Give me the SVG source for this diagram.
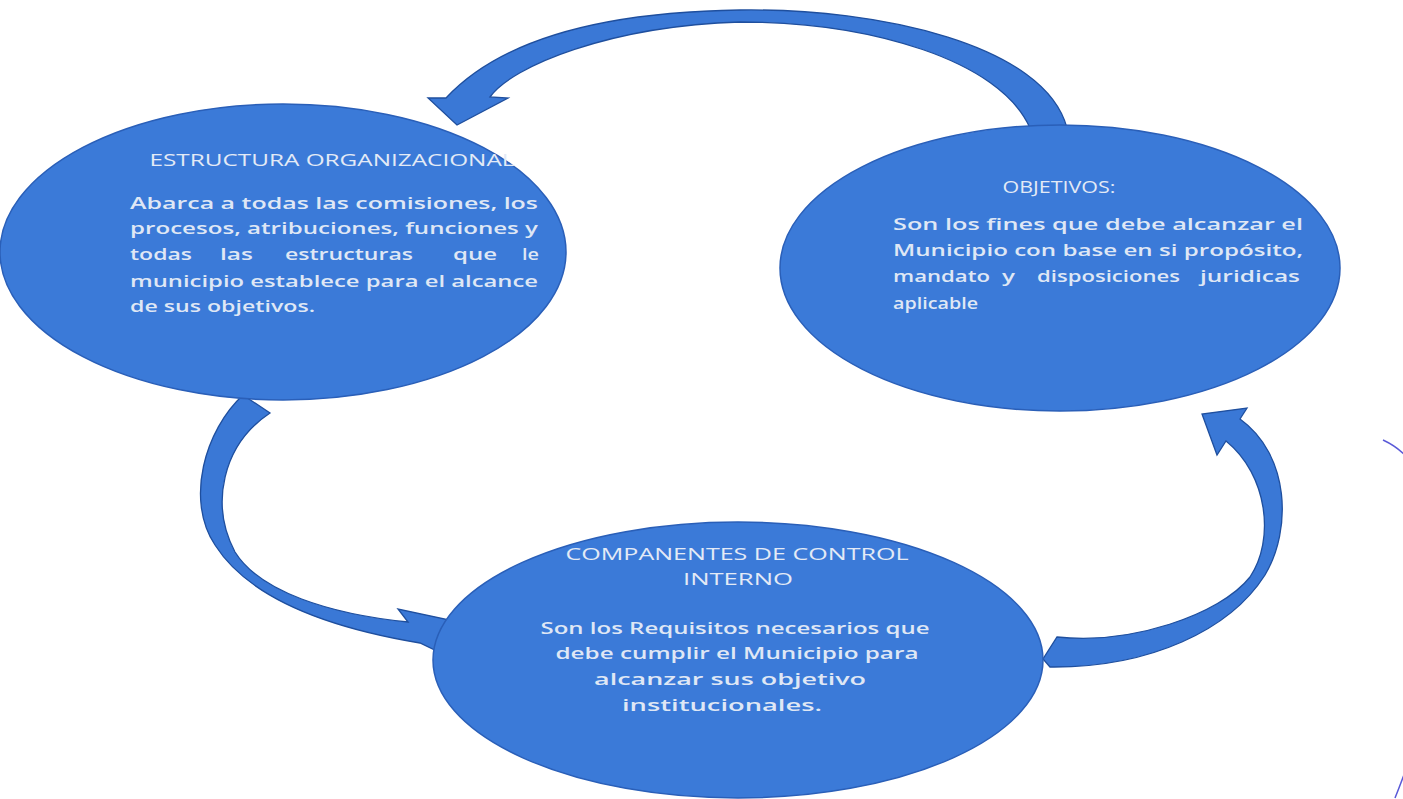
<svg xmlns="http://www.w3.org/2000/svg" width="1403" height="799" viewBox="0 0 1403 799">
<style>
.node{fill:#3b7ad8;stroke:#2a5fb8;stroke-width:1.5}
.arrow{fill:#3a78d6;stroke:#1f4f9e;stroke-width:1.3;stroke-linejoin:miter}
.t{font-family:"Open Sans","Liberation Sans",sans-serif;font-size:16.5px;font-weight:600;fill:#dfe7f5}
.h{font-family:"Open Sans","Liberation Sans",sans-serif;font-size:15.5px;fill:#e3eaf6}
.edge{fill:none;stroke:#5a5ad8;stroke-width:1.5}
</style>
<rect width="1403" height="799" fill="#ffffff"/>
<g id="connectors">
<path class="arrow" d="M1067,128 C1045,45 880,8 740,10 C600,12 500,40 446,98 L428,98 L457,125 L508,98 L490,97 C512,66 610,26 740,22 C870,22 1000,60 1030,128 Z"/>
<path class="arrow" d="M243,395 C205,430 185,500 215,545 C250,600 330,628 420,643 L445,655 L478,626 L398,609 L408,622 C330,614 260,592 235,552 C210,505 222,445 270,413 Z"/>
<path class="arrow" d="M1057,637 C1130,645 1220,615 1250,577 C1275,540 1268,475 1226,441 L1217,455 L1202,414 L1247,408 L1240,419 C1290,455 1292,530 1265,575 C1230,630 1150,668 1050,667 L1043,659 Z"/>
</g>
<g id="node-estructura">
<ellipse class="node" cx="283" cy="252" rx="283" ry="148"/>
<text class="h" x="332" y="166" text-anchor="middle" textLength="365" lengthAdjust="spacingAndGlyphs">ESTRUCTURA ORGANIZACIONAL</text>
<text class="t" x="130" y="209" textLength="408" lengthAdjust="spacingAndGlyphs">Abarca a todas las comisiones, los</text>
<text class="t" x="130" y="234" textLength="408" lengthAdjust="spacingAndGlyphs">procesos, atribuciones, funciones y</text>
<text class="t" y="260"><tspan x="130" textLength="62" lengthAdjust="spacingAndGlyphs">todas</tspan><tspan x="220" textLength="33" lengthAdjust="spacingAndGlyphs">las</tspan><tspan x="285" textLength="128" lengthAdjust="spacingAndGlyphs">estructuras</tspan><tspan x="453" textLength="44" lengthAdjust="spacingAndGlyphs">que</tspan><tspan x="522" textLength="17" lengthAdjust="spacingAndGlyphs">le</tspan></text>
<text class="t" x="130" y="287" textLength="408" lengthAdjust="spacingAndGlyphs">municipio establece para el alcance</text>
<text class="t" x="130" y="312" textLength="185" lengthAdjust="spacingAndGlyphs">de sus objetivos.</text>
</g>
<g id="node-objetivos">
<ellipse class="node" cx="1060" cy="268" rx="280" ry="143"/>
<text class="h" x="1059" y="193" text-anchor="middle" textLength="113" lengthAdjust="spacingAndGlyphs">OBJETIVOS:</text>
<text class="t" x="893" y="230" textLength="410" lengthAdjust="spacingAndGlyphs">Son los fines que debe alcanzar el</text>
<text class="t" x="893" y="256" textLength="410" lengthAdjust="spacingAndGlyphs">Municipio con base en si propósito,</text>
<text class="t" y="282"><tspan x="893" textLength="97" lengthAdjust="spacingAndGlyphs">mandato</tspan><tspan x="1002" textLength="13" lengthAdjust="spacingAndGlyphs">y</tspan><tspan x="1037" textLength="143" lengthAdjust="spacingAndGlyphs">disposiciones</tspan><tspan x="1200" textLength="100" lengthAdjust="spacingAndGlyphs">juridicas</tspan></text>
<text class="t" x="893" y="309" textLength="85" lengthAdjust="spacingAndGlyphs">aplicable</text>
</g>
<g id="node-componentes">
<ellipse class="node" cx="738" cy="660" rx="305" ry="138"/>
<text class="h" x="737" y="560" text-anchor="middle" textLength="343" lengthAdjust="spacingAndGlyphs">COMPANENTES DE CONTROL</text>
<text class="h" x="738" y="585" text-anchor="middle" textLength="110" lengthAdjust="spacingAndGlyphs">INTERNO</text>
<text class="t" x="735" y="634" text-anchor="middle" textLength="389" lengthAdjust="spacingAndGlyphs">Son los Requisitos necesarios que</text>
<text class="t" x="737" y="659" text-anchor="middle" textLength="363" lengthAdjust="spacingAndGlyphs">debe cumplir el Municipio para</text>
<text class="t" x="730" y="685" text-anchor="middle" textLength="272" lengthAdjust="spacingAndGlyphs">alcanzar sus objetivo</text>
<text class="t" x="722" y="711" text-anchor="middle" textLength="200" lengthAdjust="spacingAndGlyphs">institucionales.</text>
</g>
<path class="edge" d="M1383,440 Q1396,446 1406,456"/>
<path class="edge" d="M1395,798 Q1399,788 1405,772"/>
</svg>
